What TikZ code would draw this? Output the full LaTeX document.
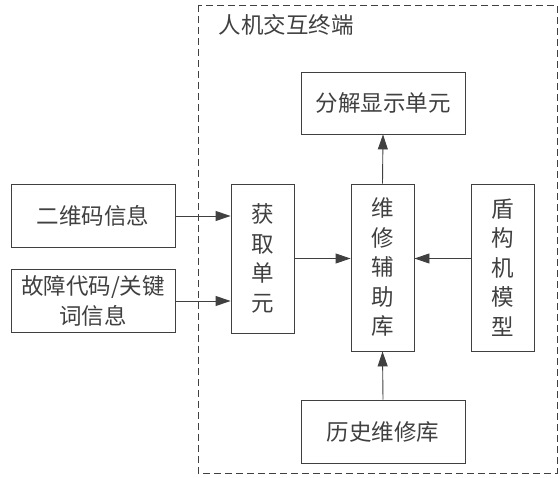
\documentclass[tikz,border=0pt]{standalone}
\usepackage{fontspec}
\setmainfont{Noto Sans CJK SC}
\usetikzlibrary{arrows.meta}
\begin{document}
\begin{tikzpicture}[x=1pt, y=-1pt, line width=0.9pt, draw=black!75,
arrow line/.style={-{Triangle[length=15pt,width=10pt]}},
main node/.style={rectangle,draw=black!75,inner sep=0pt,text=black!75,font=\fontsize{22.5pt}{29.5pt}\selectfont,align=center},
wide node/.style={main node,minimum width=164pt,minimum height=63pt},
tall node/.style={main node,minimum width=63pt}]
\useasboundingbox (0,0) rectangle (560,478);
% terminal frame
\draw[dashed, dash pattern=on 7pt off 4pt, black!75] (198,5) rectangle (557,473);
\node[anchor=west, text=black!75, font=\fontsize{22.5pt}{29.5pt}\selectfont] (title) at (215,25) {人机交互终端};
\begin{scope}
\node[wide node] (erwei) at (93,216) {二维码信息};
\node[wide node] (guzhang) at (93,301) {故障代码/关键\\词信息};
\node[tall node, minimum height=149pt] (huoqu) at (262.5,258.5) {获\\取\\单\\元};
\node[tall node, minimum height=167pt] (weixiu) at (382.5,267.5) {维\\修\\辅\\助\\库};
\node[tall node, minimum height=167pt] (dungou) at (503,267.5) {盾\\构\\机\\模\\型};
\node[wide node, minimum height=62pt] (fenjie) at (383,103) {分解显示单元};
\node[wide node] (lishi) at (383,431.5) {历史维修库};
\end{scope}
\begin{scope}[every path/.style={arrow line}]
\draw (erwei.east) -- (erwei.east -| huoqu.west);
\draw (guzhang.east) -- (guzhang.east -| huoqu.west);
\draw (huoqu.east) -- (huoqu.east -| weixiu.west);
\draw (huoqu.east -| dungou.west) -- (huoqu.east -| weixiu.east);
\draw (weixiu.north) -- (fenjie.south);
\draw (lishi.north) -- (weixiu.south);
\end{scope}
\end{tikzpicture}
\end{document}
